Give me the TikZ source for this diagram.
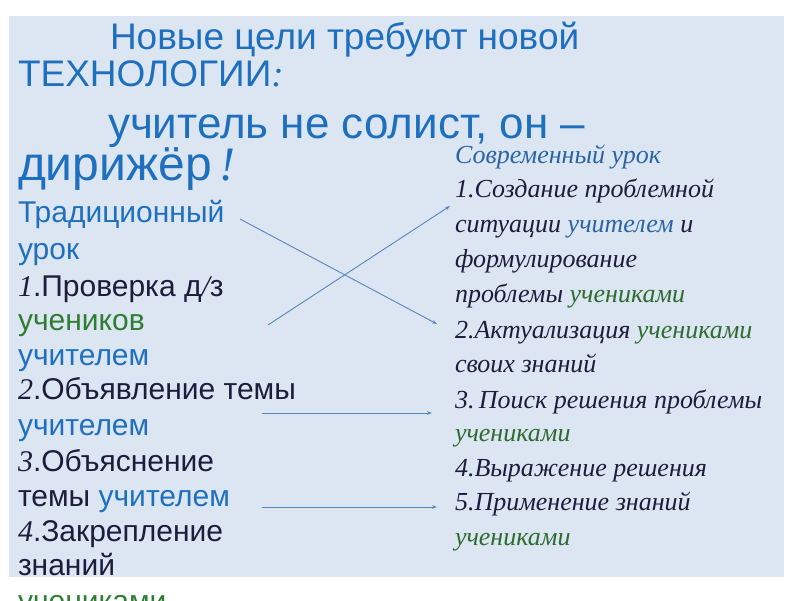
\documentclass[tikz,border=0pt]{standalone}
\usepackage{fontspec}
\setmainfont{Liberation Sans}
\newfontfamily\rsf{Liberation Serif}
\usetikzlibrary{arrows.meta}
\definecolor{bg}{HTML}{DCE6F2}
\definecolor{bl}{HTML}{1F6FBF}
\definecolor{dk}{HTML}{1C1C3C}
\definecolor{gr}{HTML}{2E7D32}
\definecolor{rb}{HTML}{2A63A6}
\definecolor{rg}{HTML}{2E6B30}
\definecolor{ln}{HTML}{5585C0}
\newcommand{\sn}[1]{{\rsf\itshape #1}}
\tikzset{
  ttl/.style={anchor=base west, inner sep=0pt, outer sep=0pt, text=bl, font=\fontsize{37}{37}\selectfont},
  ttb/.style={anchor=base west, inner sep=0pt, outer sep=0pt, text=bl, font=\fontsize{44}{44}\selectfont},
  lft/.style={anchor=base west, inner sep=0pt, outer sep=0pt, text=dk, font=\fontsize{30}{30}\selectfont},
  rgt/.style={anchor=base west, inner sep=0pt, outer sep=0pt, text=dk, font=\rsf\itshape\fontsize{26}{26}\selectfont},
  conn/.style={draw=ln, line width=0.9pt, -{Stealth[length=5pt,width=3.5pt]}},
}
\begin{document}
\begin{tikzpicture}[x=1pt,y=-1pt]
\useasboundingbox (0,0) rectangle (800,600);
\fill[bg] (9,16) rectangle (784,577);
% title
\node[ttl] (t1) at (110,49) {Новые цели требуют новой};
\node[ttl] (t2) at (18,86) {ТЕХНОЛОГИИ\sn{:}};
\node[ttb] (t3) at (108,138) {учитель не солист, он –};
\node[ttb,font=\fontsize{48}{48}\selectfont] (t4) at (18,180) {дирижёр\,\sn{!}};
% left column
\node[lft,text=bl] (l1) at (18,222) {Традиционный};
\node[lft,text=bl] (l2) at (18,259) {урок};
\node[lft] (l3) at (18,296) {\sn{1}.Проверка д\sn{/}з};
\node[lft,text=gr] (l4) at (18,330) {учеников};
\node[lft,text=bl] (l5) at (18,365) {учителем};
\node[lft] (l6) at (18,399) {\sn{2}.Объявление темы};
\node[lft,text=bl] (l7) at (18,435) {учителем};
\node[lft] (l8) at (18,471) {\sn{3}.Объяснение};
\node[lft] (l9) at (18,506) {темы \textcolor{bl}{учителем}};
\node[lft] (l10) at (18,541) {\sn{4}.Закрепление};
\node[lft] (l11) at (18,575) {знаний};
\node[lft,text=gr] (l12) at (18,611) {учениками};
% right column
\node[rgt,text=rb] (r1) at (455,163) {Современный урок};
\node[rgt] (r2) at (455,197) {1.Создание проблемной};
\node[rgt] (r3) at (455,232) {ситуации \textcolor{rb}{учителем} и};
\node[rgt] (r4) at (455,267) {формулирование};
\node[rgt] (r5) at (455,302) {проблемы \textcolor{rg}{учениками}};
\node[rgt] (r6) at (455,338) {2.Актуализация \textcolor{rg}{учениками}};
\node[rgt] (r7) at (455,372) {своих знаний};
\node[rgt] (r8) at (455,408) {3.\,Поиск решения проблемы};
\node[rgt,text=rg] (r9) at (455,441) {учениками};
\node[rgt] (r10) at (455,476) {4.Выражение решения};
\node[rgt] (r11) at (455,510) {5.Применение знаний};
\node[rgt,text=rg] (r12) at (455,545) {учениками};
% connectors
\coordinate (a1) at (240,219);
\coordinate (a2) at (437,324);
\coordinate (b1) at (268,325);
\coordinate (b2) at (450,206);
\coordinate (c1) at (262,413);
\coordinate (c2) at (432,413);
\coordinate (d1) at (262,507);
\coordinate (d2) at (437,507);
\draw[conn] (a1) -- (a2);
\draw[conn] (b1) -- (b2);
\draw[conn] (c1) -- (c2);
\draw[conn] (d1) -- (d2);
\end{tikzpicture}
\end{document}
